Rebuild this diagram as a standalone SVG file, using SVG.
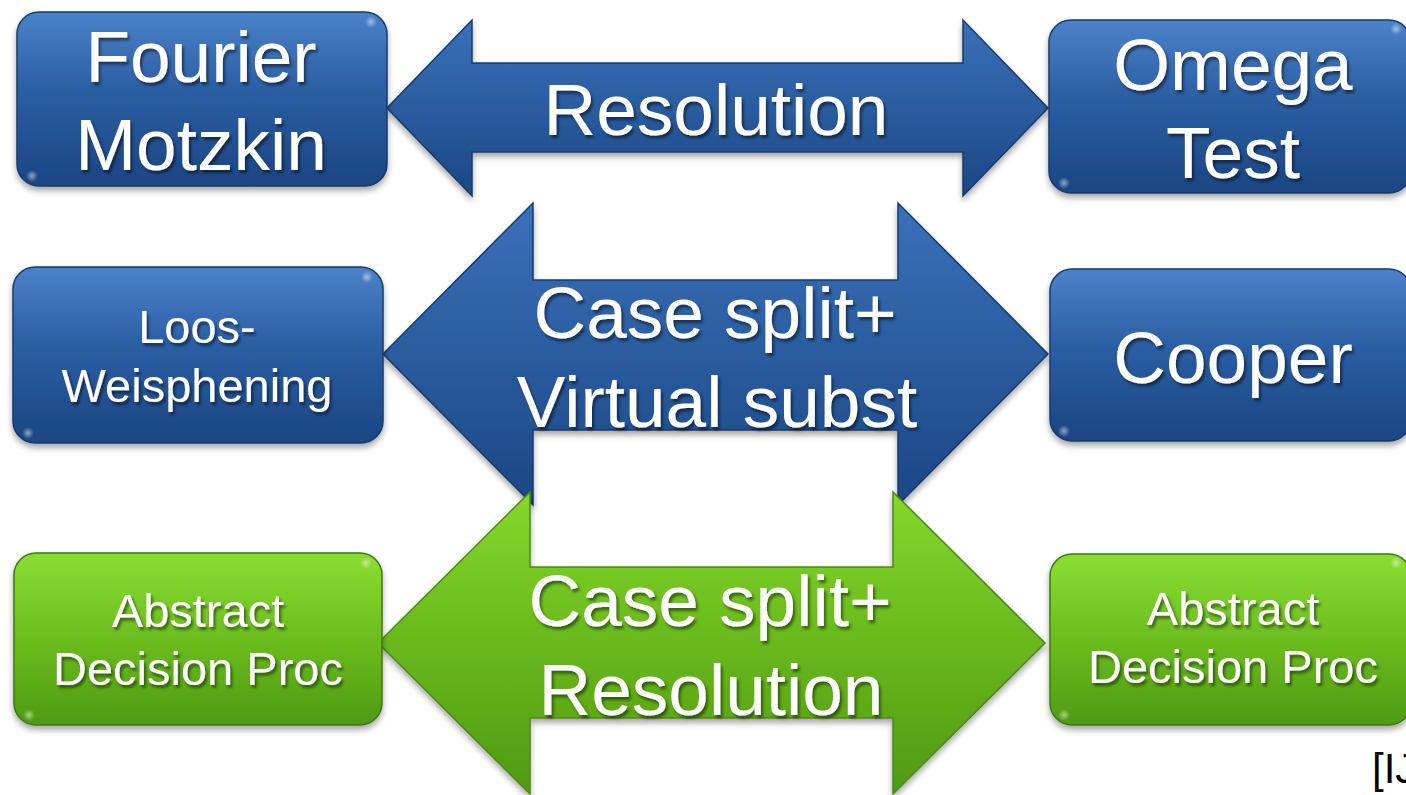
<svg xmlns="http://www.w3.org/2000/svg" width="1406" height="795" viewBox="0 0 1406 795">
  <defs>
    <linearGradient id="blueBox" x1="0" y1="0" x2="0" y2="1">
      <stop offset="0" stop-color="#4b82c9"/>
      <stop offset="0.45" stop-color="#2b5ea3"/>
      <stop offset="1" stop-color="#1b4582"/>
    </linearGradient>
    <linearGradient id="blueArrow" x1="0" y1="0" x2="0" y2="1">
      <stop offset="0" stop-color="#3a71ba"/>
      <stop offset="0.5" stop-color="#2a5c9f"/>
      <stop offset="1" stop-color="#1c4684"/>
    </linearGradient>
    <linearGradient id="greenBox" x1="0" y1="0" x2="0" y2="1">
      <stop offset="0" stop-color="#8ade33"/>
      <stop offset="0.5" stop-color="#6cbd1f"/>
      <stop offset="1" stop-color="#4f9a12"/>
    </linearGradient>
    <linearGradient id="greenArrow" x1="0" y1="0" x2="0" y2="1">
      <stop offset="0" stop-color="#84d92c"/>
      <stop offset="0.5" stop-color="#69b81c"/>
      <stop offset="1" stop-color="#509912"/>
    </linearGradient>
    <radialGradient id="glint">
      <stop offset="0" stop-color="#ffffff" stop-opacity="0.5"/>
      <stop offset="1" stop-color="#ffffff" stop-opacity="0"/>
    </radialGradient>
    <filter id="shapeShadow" x="-5%" y="-10%" width="110%" height="125%">
      <feDropShadow dx="0" dy="4" stdDeviation="3" flood-color="#000" flood-opacity="0.35"/>
    </filter>
    <filter id="textShadow" x="-5%" y="-20%" width="110%" height="140%">
      <feDropShadow dx="2" dy="3" stdDeviation="1.6" flood-color="#000" flood-opacity="0.5"/>
    </filter>
  </defs>
  <style>
    .lbl { font-family: "Liberation Sans", Arial, sans-serif; fill: #ffffff; text-anchor: middle; filter: url(#textShadow); }
    .big { font-size: 73px; }
    .small { font-size: 47px; }
    .bbox { fill: url(#blueBox); stroke: #173a6e; stroke-width: 1.5; filter: url(#shapeShadow); }
    .gbox { fill: url(#greenBox); stroke: #3d7a0e; stroke-width: 1.5; filter: url(#shapeShadow); }
    .barrow { fill: url(#blueArrow); stroke: #173a6e; stroke-width: 1.5; filter: url(#shapeShadow); }
    .garrow { fill: url(#greenArrow); stroke: #4a8a14; stroke-width: 1.5; filter: url(#shapeShadow); }
    .ref { font-family: "Liberation Sans", Arial, sans-serif; font-size: 42px; fill: #000000; }
  </style>

  <rect width="1406" height="795" fill="#ffffff"/>

  <!-- double-headed arrows with their labels -->
  <g id="connectors">
    <g id="arrow-resolution">
      <polygon class="barrow" points="387,108 472,20 472,63 963,63 963,20 1048,108 963,196 963,152 472,152 472,196"/>
      <text class="lbl big" x="716" y="135">Resolution</text>
    </g>
    <g id="arrow-virtual-subst">
      <polygon class="barrow" points="383,354 533,203 533,280 898,280 898,203 1048,354 898,505 898,430 533,430 533,505"/>
      <text class="lbl big" x="715" y="338">Case split+</text>
      <text class="lbl big" x="717" y="427">Virtual subst</text>
    </g>
    <g id="arrow-case-resolution">
      <polygon class="garrow" points="378,643 530,492 530,567 893,567 893,492 1045,643 893,794 893,718 530,718 530,794"/>
      <text class="lbl big" x="710" y="626">Case split+</text>
      <text class="lbl big" x="711" y="715">Resolution</text>
    </g>
  </g>

  <!-- left column -->
  <g id="fourier-motzkin">
    <rect class="bbox" x="17" y="12" width="370" height="174" rx="22"/>
    <circle cx="371" cy="22" r="6" fill="url(#glint)"/>
    <circle cx="32" cy="176" r="6" fill="url(#glint)"/>
    <text class="lbl big" x="201" y="82">Fourier</text>
    <text class="lbl big" x="201" y="170">Motzkin</text>
  </g>
  <g id="loos-weispfenning">
    <rect class="bbox" x="13" y="267" width="370" height="176" rx="22"/>
    <circle cx="367" cy="277" r="6" fill="url(#glint)"/>
    <circle cx="28" cy="433" r="6" fill="url(#glint)"/>
    <text class="lbl small" x="197" y="343">Loos-</text>
    <text class="lbl small" x="197" y="402">Weisphening</text>
  </g>
  <g id="adp-left">
    <rect class="gbox" x="14" y="553" width="368" height="172" rx="22"/>
    <circle cx="366" cy="563" r="6" fill="url(#glint)"/>
    <circle cx="29" cy="715" r="6" fill="url(#glint)"/>
    <text class="lbl small" x="198" y="627">Abstract</text>
    <text class="lbl small" x="198" y="685">Decision Proc</text>
  </g>

  <!-- right column -->
  <g id="omega-test">
    <rect class="bbox" x="1049" y="20" width="362" height="173" rx="22"/>
    <circle cx="1396" cy="29" r="6" fill="url(#glint)"/>
    <circle cx="1064" cy="183" r="6" fill="url(#glint)"/>
    <text class="lbl big" x="1233" y="90">Omega</text>
    <text class="lbl big" x="1233" y="178">Test</text>
  </g>
  <g id="cooper">
    <rect class="bbox" x="1050" y="269" width="361" height="172" rx="22"/>
    <circle cx="1064" cy="431" r="6" fill="url(#glint)"/>
    <text class="lbl big" x="1233" y="383">Cooper</text>
  </g>
  <g id="adp-right">
    <rect class="gbox" x="1050" y="554" width="361" height="171" rx="22"/>
    <circle cx="1396" cy="563" r="6" fill="url(#glint)"/>
    <circle cx="1064" cy="715" r="6" fill="url(#glint)"/>
    <text class="lbl small" x="1233" y="625">Abstract</text>
    <text class="lbl small" x="1233" y="683">Decision Proc</text>
  </g>

  <!-- citation mark, running off the right edge -->
  <text class="ref" x="1372" y="783">[IJ</text>
</svg>
